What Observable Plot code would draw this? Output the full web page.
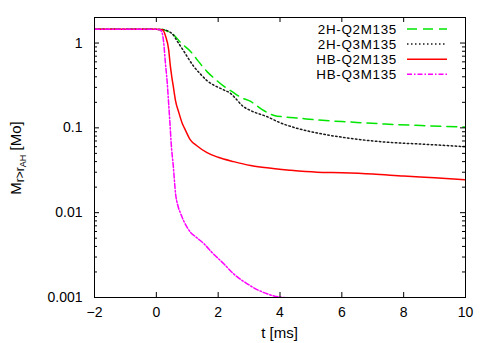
<!DOCTYPE html>
<html><head><meta charset="utf-8">
<script src="https://cdn.jsdelivr.net/npm/d3@7"></script>
<script src="https://cdn.jsdelivr.net/npm/@observablehq/plot@0.6"></script>
<style>body{margin:0;background:#fff} svg{display:block}</style>
</head><body><div id="chart"></div>
<script>
// ---- data ----
const seriesNames = ["2H-Q2M135", "2H-Q3M135", "HB-Q2M135", "HB-Q3M135"];
const seriesColors = ["#00e600", "#1a1a1a", "#ff0000", "#ff00ff"];
const seriesDash = ["10,6", "1.5,2.5", null, "5,2,1.5,2"];

const t_2HQ2 = [-2, 0, 0.2, 0.35, 0.56, 0.78, 1.1, 1.3, 1.64, 1.85, 2.18, 2.5, 2.72, 3.05, 3.27, 3.5, 3.81, 4.2, 4.6, 5.2, 6.3, 7.4, 8.7, 10];
const m_2HQ2 = [1.45, 1.45, 1.44, 1.38, 1.25, 1.02, 0.8, 0.65, 0.46, 0.39, 0.31, 0.26, 0.23, 0.205, 0.18, 0.158, 0.14, 0.134, 0.13, 0.124, 0.117, 0.111, 0.106, 0.102];

const t_2HQ3 = [-2, 0, 0.2, 0.5, 0.7, 0.89, 1.0, 1.21, 1.43, 1.64, 1.85, 2.18, 2.4, 2.6, 2.8, 3.05, 3.59, 4.0, 4.5, 5.2, 6.3, 7.4, 8.7, 10];
const m_2HQ3 = [1.45, 1.45, 1.44, 1.3, 1.02, 0.8, 0.69, 0.53, 0.43, 0.36, 0.32, 0.28, 0.255, 0.215, 0.18, 0.16, 0.135, 0.115, 0.1, 0.087, 0.075, 0.068, 0.064, 0.060];

const t_HBQ2 = [-2, 0, 0.2, 0.3, 0.4, 0.45, 0.5, 0.56, 0.62, 0.72, 0.85, 0.94, 1.1, 1.3, 1.64, 2.0, 2.5, 3.05, 3.5, 4.35, 5.2, 6.0, 7.0, 8.0, 9.0, 10];
const m_HBQ2 = [1.45, 1.45, 1.43, 1.2, 0.83, 0.55, 0.4, 0.29, 0.21, 0.155, 0.11, 0.094, 0.072, 0.062, 0.051, 0.045, 0.040, 0.036, 0.034, 0.0316, 0.030, 0.0295, 0.0285, 0.027, 0.0258, 0.0245];

const t_HBQ3 = [-2, 0, 0.1, 0.15, 0.18, 0.24, 0.29, 0.35, 0.4, 0.45, 0.48, 0.55, 0.62, 0.7, 0.78, 0.9, 1.1, 1.3, 1.54, 1.8, 2.18, 2.5, 2.94, 3.3, 3.6, 4.0, 4.7];
const m_HBQ3 = [1.45, 1.45, 1.44, 1.4, 1.35, 1.0, 0.6, 0.35, 0.19, 0.1, 0.066, 0.035, 0.017, 0.012, 0.0099, 0.0078, 0.0059, 0.0051, 0.0043, 0.0034, 0.0025, 0.0019, 0.00145, 0.00122, 0.0011, 0.00101, 0.00098];

const xTicks = [-2, 0, 2, 4, 6, 8, 10];
const yTicks = [0.001, 0.01, 0.1, 1];
const yTickLabels = ["0.001", "0.01", "0.1", "1"];
const yMinor = [0.002,0.003,0.004,0.005,0.006,0.007,0.008,0.009,
                0.02,0.03,0.04,0.05,0.06,0.07,0.08,0.09,
                0.2,0.3,0.4,0.5,0.6,0.7,0.8,0.9, 2];
const xLabel = "t [ms]";

// ---- build table ----
const tAll = [t_2HQ2, t_2HQ3, t_HBQ2, t_HBQ3];
const mAll = [m_2HQ2, m_2HQ3, m_HBQ2, m_HBQ3];
const rows = [];
seriesNames.forEach((s, k) => tAll[k].forEach((t, i) => rows.push({series: s, t, m: mAll[k][i]})));

// ---- layout ----
const W = 491, H = 343;
const mL = 94, mR = 26, mT = 17, mB = 46;
const pw = W - mL - mR, ph = H - mT - mB;
const font = "Liberation Sans, Arial, Helvetica, sans-serif";
const major = 5, minor = 3;

const lineMarks = seriesNames.map((s, k) => Plot.line(rows.filter(d => d.series === s), {
  x: "t", y: "m", stroke: seriesColors[k], strokeWidth: 1.5,
  strokeDasharray: seriesDash[k], curve: "monotone-x", clip: true
}));

const chart = Plot.plot({
  width: W, height: H,
  marginLeft: mL, marginRight: mR, marginTop: mT, marginBottom: mB,
  style: {fontFamily: font, fontSize: "14px", background: "#fff", color: "#000"},
  x: {domain: [-2, 10]},
  y: {type: "log", domain: [0.001, 2]},
  marks: [
    ...lineMarks,
    Plot.frame({stroke: "#000", strokeWidth: 1}),
    Plot.tickX(xTicks, {x: d => d, insetTop: ph - major, stroke: "#000"}),
    Plot.tickX(xTicks, {x: d => d, insetBottom: ph - major, stroke: "#000"}),
    Plot.tickY(yTicks, {y: d => d, insetRight: pw - major, stroke: "#000"}),
    Plot.tickY(yTicks, {y: d => d, insetLeft: pw - major, stroke: "#000"}),
    Plot.tickY(yMinor, {y: d => d, insetRight: pw - minor, stroke: "#000"}),
    Plot.tickY(yMinor, {y: d => d, insetLeft: pw - minor, stroke: "#000"}),
    Plot.axisX(xTicks, {tickSize: 0, tickPadding: 10, fontSize: 14, label: null}),
    Plot.axisY(yTicks, {tickSize: 0, tickPadding: 12, fontSize: 14, label: null,
      tickFormat: d => yTickLabels[yTicks.indexOf(d)]})
  ]
});
document.getElementById("chart").appendChild(chart);

// ---- texts: axis labels and legend ----
const svg = d3.select(chart);
svg.append("text")
  .attr("x", mL + pw / 2).attr("y", H - 5)
  .attr("text-anchor", "middle")
  .attr("font-family", font).attr("font-size", 15).attr("fill", "#000")
  .text(xLabel);

const yl = svg.append("text")
  .attr("transform", `translate(21,${mT + ph / 2 + 1}) rotate(-90)`)
  .attr("text-anchor", "middle")
  .attr("font-family", font).attr("font-size", 15).attr("fill", "#000");
yl.append("tspan").text("M");
yl.append("tspan").attr("font-size", 12).attr("dy", 3).text("r>r");
yl.append("tspan").attr("font-size", 9).attr("dy", 2).text("AH");
yl.append("tspan").attr("font-size", 15).attr("dy", -5).text(" [Mo]");

const lg = svg.append("g").attr("font-family", font).attr("font-size", 13.4)
  .attr("letter-spacing", 0.7);
seriesNames.forEach((s, k) => {
  const y = mT + 12 + k * 15.1;
  lg.append("text").attr("x", 397).attr("y", y).attr("dy", "0.35em")
    .attr("text-anchor", "end").attr("fill", "#000").text(s);
  lg.append("line").attr("x1", 407).attr("x2", 447).attr("y1", y).attr("y2", y)
    .attr("stroke", seriesColors[k]).attr("stroke-width", 1.5)
    .attr("stroke-dasharray", seriesDash[k]);
});
</script></body></html>
